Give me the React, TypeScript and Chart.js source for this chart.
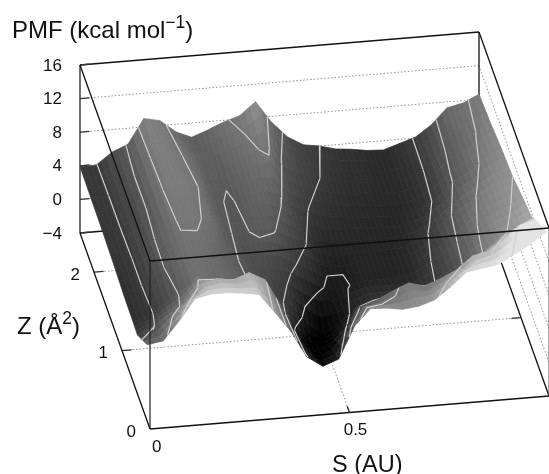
import React, { useEffect, useRef } from "react";
import { Chart, registerables } from "chart.js";

Chart.register(...registerables);

// ---- data ----
const sValues = [0, .04, .08, .12, .16, .2, .24, .28, .32, .36, .4, .44, .48, .52, .56, .6, .64, .68, .72, .76, .8, .84, .88, .92, .96, 1];
const zValues = [2.5, 2.1, 1.7, 1.3, .95, .6, .45, .1];
const pmfZ250 = [3.9, 3.9, 5.3, 6.1, 9, 8.6, 7.1, 6.3, 7, 7.8, 8.4, 9.9, 7.3, 5.4, 4.3, 4, 3.5, 3.3, 3, 2.9, 3.5, 4.1, 5.4, 7.3, 7.7, 8.6];
const pmfZ210 = [3.8, 3.9, 5, 6.4, 8.6, 8.5, 7.8, 6.5, 6.4, 7, 7.6, 8.4, 5.8, 4.8, 4.2, 3.6, 3.2, 3.1, 2.9, 2.9, 3.2, 4.2, 5.8, 6.9, 7.9, 9];
const pmfZ170 = [3.7, 3.9, 4.9, 6.4, 8.4, 8.6, 8, 6.3, 5.8, 6.6, 7, 6.4, 4.7, 3.9, 3.3, 3, 2.8, 2.7, 2.6, 2.7, 3.3, 4.4, 6.1, 7.1, 8.6, 9.6];
const pmfZ130 = [3.5, 3.8, 5.2, 6.6, 8.1, 8.2, 7.8, 6.2, 5.7, 6.3, 6.2, 5, 4.1, 2.6, 2.15, 2.5, 2.5, 2.5, 2.6, 3.3, 4.3, 5.8, 7, 8.4, 9.4, 10];
const pmfZ095 = [3.2, 3.8, 5.2, 6.7, 7.8, 7.7, 7, 6.2, 5.3, 5, 4.4, 3.6, 2.5, 1.6, 1.9, 2.4, 2.4, 2.4, 2.7, 3.7, 4.8, 6.1, 7.8, 9, 9.7, 10.8];
const pmfZ060 = [3.1, 3.7, 5, 6.2, 7.8, 7.4, 7.2, 6.5, 5.3, 4.4, 3.4, 1, -.2, 1, 2.8, 3.4, 3.5, 3.5, 3.5, 4, 5, 6.4, 8.2, 9.6, 10.6, 11.6];
const pmfZ045 = [3, 3.9, 5.2, 6.4, 8.4, 8.9, 8.6, 9.3, 8.3, 5, 1.4, -.8, -.1, 1.7, 4.2, 4.8, 5.7, 6.5, 6, 6.7, 7.6, 9.1, 9.5, 10.7, 12.3, 12.7];
const pmfZ010 = [5.1, 5.4, 7.6, 10.1, 10.5, 10.5, 10.3, 10, 7.7, 5.3, 2.1, .8, 1.5, 5.3, 7.2, 7.1, 6.8, 7, 7.6, 9, 10.6, 10.9, 11.2, 12.2, 13.3, 14.6];
const pmfRows = [pmfZ250, pmfZ210, pmfZ170, pmfZ130, pmfZ095, pmfZ060, pmfZ045, pmfZ010];
const contourLevels = [2, 4, 6, 8, 10, 12];
const pmfTicks = [16, 12, 8, 4, 0, -4];
const pmfGrid = [0, 4, 8, 12];
const zTicks = [0, 1, 2];
const sTicks = [0, 0.5];

// ---- box geometry (gnuplot-like oblique view) ----
const S_MAX = 1, Z_MAX = 2.5, P_MIN = -4, P_MAX = 16;
const rowLight = [1, 1, 1, 1, 1, 1, 1.3, 1.42];
function project(s: number, z: number, p: number) {
  return { x: 150 + 399 * s - 28 * z, y: 429 - 33 * s - 78.4 * z - 8.4 * (p - P_MIN) };
}
function grayOf(p: number, light: number) {
  const v = Math.round(Math.max(0, Math.min(226, p * 14.5 * light)));
  return `rgb(${v},${v},${v})`;
}

function line(points: number[][], color: string, width: number, dash: number[] = []) {
  return {
    data: points.map(([s, z, p]) => project(s, z, p)),
    showLine: true, fill: false, borderColor: color, borderWidth: width, borderDash: dash,
    pointRadius: 0, tension: 0, spanGaps: false,
  };
}

const SUB_S = 3, SUB_Z = 3;
function surfaceDatasets() {
  const out: any[] = [];
  for (let r = 0; r < zValues.length - 1; r++) {
    const z0 = zValues[r], z1 = zValues[r + 1];
    const a = pmfRows[r], b = pmfRows[r + 1];
    for (let c = 0; c < sValues.length - 1; c++) {
      const s0 = sValues[c], s1 = sValues[c + 1];
      const at = (u: number, v: number) => {
        const top = a[c] + (a[c + 1] - a[c]) * u;
        const bot = b[c] + (b[c + 1] - b[c]) * u;
        return { s: s0 + (s1 - s0) * u, z: z0 + (z1 - z0) * v, p: top + (bot - top) * v };
      };
      for (let j = 0; j < SUB_Z; j++) {
        for (let i = 0; i < SUB_S; i++) {
          const corners = [[i, j], [i + 1, j], [i + 1, j + 1], [i, j + 1], [i, j]].map(([u, v]) => at(u / SUB_S, v / SUB_Z));
          const mv = (j + .5) / SUB_Z;
          const mid = at((i + .5) / SUB_S, mv);
          const col = grayOf(mid.p, rowLight[r] + (rowLight[r + 1] - rowLight[r]) * mv);
          out.push({
            data: corners.map((q) => project(q.s, q.z, q.p)),
            showLine: true, fill: "shape", backgroundColor: col, borderColor: col, borderWidth: .7,
            pointRadius: 0, tension: 0,
          });
        }
      }
    }
    // contour segments of this strip, marching squares on the grid cell
    const pts: any[] = [];
    for (const lev of contourLevels) {
      for (let c = 0; c < sValues.length - 1; c++) {
        const cell = [
          { s: sValues[c], z: z0, p: a[c] },
          { s: sValues[c + 1], z: z0, p: a[c + 1] },
          { s: sValues[c + 1], z: z1, p: b[c + 1] },
          { s: sValues[c], z: z1, p: b[c] },
        ];
        const hits: any[] = [];
        for (let e = 0; e < 4; e++) {
          const m = cell[e], n = cell[(e + 1) % 4];
          if ((m.p < lev) !== (n.p < lev)) {
            const t = (lev - m.p) / (n.p - m.p);
            hits.push(project(m.s + (n.s - m.s) * t, m.z + (n.z - m.z) * t, lev));
          }
        }
        for (let h = 0; h + 1 < hits.length; h += 2) {
          pts.push(hits[h], hits[h + 1], { x: NaN, y: NaN });
        }
      }
    }
    out.push({
      data: pts, showLine: true, fill: false, borderColor: "#cfcfcf", borderWidth: 1.2,
      pointRadius: 0, tension: 0, spanGaps: false,
    });
  }
  return out;
}

function buildDatasets() {
  const dot = [1.5, 2];
  const dotColor = "#8f8f8f";
  const back: any[] = [];
  // walls behind the surface
  for (const p of pmfGrid) {
    back.push(line([[0, Z_MAX, p], [S_MAX, Z_MAX, p]], dotColor, 1, dot));
    back.push(line([[S_MAX, Z_MAX, p], [S_MAX, 0, p]], dotColor, 1, dot));
  }
  for (const z of zTicks.slice(1)) back.push(line([[0, z, P_MIN], [S_MAX, z, P_MIN]], dotColor, 1, dot));
  back.push(line([[.5, 0, P_MIN], [.5, Z_MAX, P_MIN]], dotColor, 1, dot));
  const ink = "#111111";
  back.push(line([[0, Z_MAX, P_MAX], [S_MAX, Z_MAX, P_MAX]], ink, 1.3));
  back.push(line([[S_MAX, Z_MAX, P_MIN], [S_MAX, Z_MAX, P_MAX]], ink, 1.3));
  back.push(line([[0, Z_MAX, P_MIN], [S_MAX, Z_MAX, P_MIN]], ink, 1.3));
  back.push(line([[0, Z_MAX, P_MIN], [0, Z_MAX, P_MAX]], "#222222", 1.3));
  back.push(line([[S_MAX, Z_MAX, P_MIN], [S_MAX, 0, P_MIN]], ink, 1.3));
  back.push(line([[0, 0, P_MIN], [S_MAX, 0, P_MIN]], ink, 1.3));
  for (const p of pmfTicks) back.push(line([[0, Z_MAX, p], [.024, Z_MAX, p]], "#333333", 1.3));
  for (const z of zTicks.slice(1)) back.push(line([[0, z, P_MIN], [.024, z, P_MIN]], "#333333", 1.3));
  back.push(line([[S_MAX, 1, P_MIN], [S_MAX - .024, 1, P_MIN]], "#333333", 1.3));
  back.push(line([[.5, 0, P_MIN], [.5, .08, P_MIN]], "#333333", 1.3));

  const front = [
    line([[0, Z_MAX, P_MAX], [0, 0, P_MAX]], ink, 1.3),
    line([[0, 0, P_MAX], [S_MAX, 0, P_MAX]], ink, 1.3),
    line([[S_MAX, Z_MAX, P_MAX], [S_MAX, 0, P_MAX]], ink, 1.3),
    line([[0, 0, P_MIN], [0, 0, P_MAX]], "#222222", 1.2),
    line([[0, Z_MAX, P_MIN], [0, 0, P_MIN]], ink, 1.3),
    line([[S_MAX, 0, P_MIN], [S_MAX, 0, P_MAX]], "#555555", 1),
  ];
  // Chart.js paints dataset 0 last, so reverse the painter's order
  return [...back, ...surfaceDatasets(), ...front].reverse();
}

const FONT = '"Liberation Sans", Arial, sans-serif';

const labelsPlugin = {
  id: "labels3d",
  afterDraw(chart: any) {
    const { ctx, scales } = chart;
    const at = (s: number, z: number, p: number) => {
      const q = project(s, z, p);
      return { x: scales.x.getPixelForValue(q.x), y: scales.y.getPixelForValue(q.y) };
    };
    ctx.save();
    ctx.fillStyle = "#111";
    ctx.textBaseline = "middle";
    ctx.font = `17px ${FONT}`;
    ctx.textAlign = "right";
    for (const p of pmfTicks) {
      const q = at(0, Z_MAX, p);
      ctx.fillText(p < 0 ? `\u2212${-p}` : `${p}`, q.x - 18, q.y + 1);
    }
    for (const z of zTicks) {
      const q = at(0, z, P_MIN);
      ctx.fillText(`${z}`, q.x - 14, q.y + 3);
    }
    for (const s of sTicks) {
      const q = at(s, 0, P_MIN);
      ctx.textAlign = s === 0 ? "left" : "center";
      ctx.fillText(s === 0 ? "0" : `${s}`, q.x + (s === 0 ? 2 : 6), q.y + 18);
    }

    const runs = (x: number, y: number, parts: [string, number, number][]) => {
      let cx = x;
      ctx.textAlign = "left";
      ctx.textBaseline = "alphabetic";
      for (const [t, size, rise] of parts) {
        ctx.font = `${size}px ${FONT}`;
        ctx.fillText(t, cx, y - rise);
        cx += ctx.measureText(t).width;
      }
    };
    runs(12, 38, [["PMF (kcal mol", 24, 0], ["\u22121", 17.5, 10], [")", 24, 0]]);
    runs(17, 334, [["Z (\u00c5", 24, 0], ["2", 17.5, 10], [")", 24, 0]]);
    runs(332, 472, [["S (AU)", 23.5, 0]]);
    ctx.restore();
  },
};

export default function App() {
  const ref = useRef<HTMLCanvasElement | null>(null);
  useEffect(() => {
    const canvas = ref.current;
    if (!canvas) return;
    const chart = new Chart(canvas, {
      type: "scatter",
      data: { datasets: buildDatasets() as any },
      options: {
        animation: false,
        responsive: false,
        devicePixelRatio: 1,
        events: [],
        layout: { padding: 0 },
        plugins: { legend: { display: false }, tooltip: { enabled: false }, title: { display: false } },
        scales: {
          x: { type: "linear", min: 0, max: 549, display: false },
          y: { type: "linear", min: 0, max: 474, reverse: true, display: false },
        },
      } as any,
      plugins: [labelsPlugin],
    });
    return () => chart.destroy();
  }, []);
  return (
    <div style={{ position: "absolute", left: 0, top: 0, width: 549, height: 474, background: "#fff" }}>
      <canvas ref={ref} width={549} height={474} style={{ display: "block" }} />
    </div>
  );
}
